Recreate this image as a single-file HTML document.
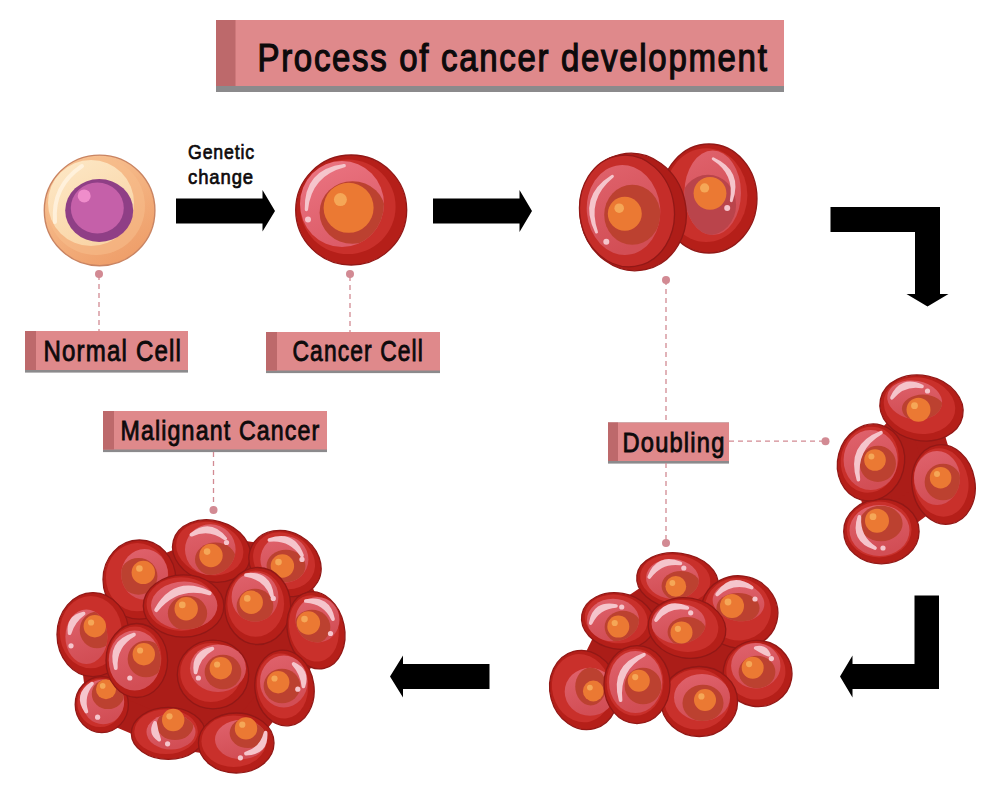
<!DOCTYPE html><html><head><meta charset="utf-8"><style>
html,body{margin:0;padding:0;background:#fff;}
svg{display:block}
.t{font-family:"Liberation Sans",sans-serif;fill:#0d0a0b;stroke:#0d0a0b;stroke-width:0.9px}
</style></head><body>
<svg width="1000" height="792" viewBox="0 0 1000 792">
<defs><linearGradient id="pg" x1="0" y1="0" x2="0.3" y2="1"><stop offset="0" stop-color="#E0636D"/><stop offset="1" stop-color="#D24E55"/></linearGradient><linearGradient id="pg2" x1="0" y1="0" x2="0.4" y2="1"><stop offset="0" stop-color="#EC7683"/><stop offset="1" stop-color="#DC5C68"/></linearGradient></defs>
<rect width="1000" height="792" fill="#ffffff"/>
<rect x="216" y="20" width="568" height="72" fill="#8B8A8C"/>
<rect x="216" y="20" width="568" height="66" fill="#DF898B"/>
<rect x="216" y="20" width="19.5" height="66" fill="#BD696B"/>
<text x="257.5" y="70.5" font-size="39" textLength="511" lengthAdjust="spacingAndGlyphs" class="t" style="letter-spacing:2px;stroke-width:1.25px">Process of cancer development</text>
<rect x="25" y="331" width="163" height="41.6" fill="#8B8A8C"/>
<rect x="25" y="331" width="163" height="39" fill="#DF898B"/>
<rect x="25" y="331" width="11" height="39" fill="#BD696B"/>
<text x="43.5" y="360.8" font-size="28.6" textLength="138.5" lengthAdjust="spacingAndGlyphs" class="t" style="letter-spacing:1.4px;stroke-width:0.85px">Normal Cell</text>
<rect x="266" y="332" width="174" height="41.1" fill="#8B8A8C"/>
<rect x="266" y="332" width="174" height="38.5" fill="#DF898B"/>
<rect x="266" y="332" width="11" height="38.5" fill="#BD696B"/>
<text x="292.5" y="361.2" font-size="28.6" textLength="131.5" lengthAdjust="spacingAndGlyphs" class="t" style="letter-spacing:1.4px;stroke-width:0.85px">Cancer Cell</text>
<rect x="103" y="411" width="224" height="41.1" fill="#8B8A8C"/>
<rect x="103" y="411" width="224" height="38.5" fill="#DF898B"/>
<rect x="103" y="411" width="11" height="38.5" fill="#BD696B"/>
<text x="120.5" y="440.2" font-size="28" textLength="200" lengthAdjust="spacingAndGlyphs" class="t" style="letter-spacing:1.4px;stroke-width:0.85px">Malignant Cancer</text>
<rect x="608" y="422.5" width="121" height="41.1" fill="#8B8A8C"/>
<rect x="608" y="422.5" width="121" height="38.5" fill="#DF898B"/>
<rect x="608" y="422.5" width="10" height="38.5" fill="#BD696B"/>
<text x="622.5" y="451.8" font-size="28" textLength="103" lengthAdjust="spacingAndGlyphs" class="t" style="letter-spacing:1.4px;stroke-width:0.85px">Doubling</text>
<text x="188" y="158.5" font-size="21" textLength="67" lengthAdjust="spacingAndGlyphs" class="t" style="stroke-width:0.7px;letter-spacing:1px">Genetic</text>
<text x="188" y="183.5" font-size="21" textLength="66" lengthAdjust="spacingAndGlyphs" class="t" style="stroke-width:0.7px;letter-spacing:1px">change</text>
<path d="M176 198.5H262.5V190L275 211L262.5 231.5V223.5H176Z" fill="#000"/>
<path d="M433 198.5H519.5V190L532 211L519.5 232V223.5H433Z" fill="#000"/>
<path d="M830.5 207H940V294H948.5L927.5 306.5L906.5 294H915V232H830.5Z" fill="#000"/>
<path d="M914.5 595.5H939V689H852.5V697.5L840 676.5L852.5 655.5V664H914.5Z" fill="#000"/>
<path d="M489.5 664V689H403V697.5L390 676.5L403 655.5V664Z" fill="#000"/>
<line x1="99" y1="275" x2="99" y2="331" stroke="#D28A93" stroke-width="1.3" stroke-dasharray="5 4"/>
<circle cx="99" cy="274" r="4" fill="#D28A93"/>
<line x1="350" y1="276" x2="350" y2="332" stroke="#D28A93" stroke-width="1.3" stroke-dasharray="5 4"/>
<circle cx="350" cy="274" r="4" fill="#D28A93"/>
<line x1="213.5" y1="452" x2="213.5" y2="510" stroke="#D28A93" stroke-width="1.3" stroke-dasharray="5 4"/>
<circle cx="213.5" cy="510" r="4" fill="#D28A93"/>
<line x1="666" y1="280" x2="666" y2="422.5" stroke="#D28A93" stroke-width="1.3" stroke-dasharray="5 4"/>
<circle cx="666" cy="280" r="4" fill="#D28A93"/>
<line x1="666" y1="463" x2="666" y2="543" stroke="#D28A93" stroke-width="1.3" stroke-dasharray="5 4"/>
<circle cx="666" cy="543" r="4" fill="#D28A93"/>
<line x1="729" y1="441.2" x2="822" y2="441.2" stroke="#D28A93" stroke-width="1.3" stroke-dasharray="5 4"/><circle cx="825.5" cy="441.2" r="4" fill="#D28A93"/>
<g>
<defs><linearGradient id="ng" x1="0.2" y1="0" x2="0.8" y2="1"><stop offset="0" stop-color="#F8C596"/><stop offset="1" stop-color="#EE9C67"/></linearGradient>
<linearGradient id="ng2" x1="0.1" y1="0" x2="0.7" y2="1"><stop offset="0" stop-color="#FDE8C6"/><stop offset="1" stop-color="#F9D3A4"/></linearGradient></defs>
<circle cx="99.6" cy="210.4" r="55.3" fill="url(#ng)" stroke="#C98462" stroke-width="1.4"/>
<circle cx="96" cy="206" r="49" fill="#F6BC8A" opacity="0.6"/>
<circle cx="91" cy="203" r="43" fill="url(#ng2)"/>
<path d="M55 222Q52 186 82 166" fill="none" stroke="#FFF4E2" stroke-width="4" stroke-linecap="round" opacity="0.8"/>
<ellipse cx="99.2" cy="210.5" rx="34" ry="31.5" fill="#8F3F86"/>
<ellipse cx="97.3" cy="208" rx="26.5" ry="25.5" fill="#C560A9"/>
<circle cx="84.2" cy="195.9" r="6.5" fill="#EF8DCB"/>
</g>
<ellipse cx="351.2" cy="210" rx="55.5" ry="55" transform="rotate(0 351.2 210)" fill="#B51F19" stroke="#921816" stroke-width="1.3"/><ellipse cx="347.9" cy="206.7" rx="47.7" ry="47.3" transform="rotate(0 351.2 210)" fill="#C9302B"/><clipPath id="k1"><ellipse cx="342" cy="204" rx="42" ry="43" transform="rotate(0 342 204)"/></clipPath><ellipse cx="342" cy="204" rx="42" ry="43" transform="rotate(0 342 204)" fill="url(#pg2)"/><ellipse clip-path="url(#k1)" cx="352.5" cy="212.5" rx="32.940000000000005" ry="31.32" fill="#BC4130"/><circle cx="348.6" cy="207.8" r="25" fill="#EB7933"/><circle cx="340.4" cy="199.6" r="6.5" fill="#F5A757"/><path d="M306.4 209.5Q305.5 170.5 344.2 165.6Q310.0 174.4 306.4 209.5Z" fill="#F5C5CC" stroke="#F5C5CC" stroke-width="3.3" stroke-linejoin="round"/><circle cx="308" cy="219.5" r="3" fill="#F5C5CC"/>
<ellipse cx="709" cy="198.5" rx="48" ry="54.5" transform="rotate(0 709 198.5)" fill="#B51F19" stroke="#921816" stroke-width="1.3"/><ellipse cx="706.1" cy="195.2" rx="41.3" ry="46.9" transform="rotate(0 709 198.5)" fill="#C9302B"/><clipPath id="k2"><ellipse cx="712.7" cy="192.8" rx="28.3" ry="42.3" transform="rotate(0 712.7 192.8)"/></clipPath><ellipse cx="712.7" cy="192.8" rx="28.3" ry="42.3" transform="rotate(0 712.7 192.8)" fill="url(#pg)"/><ellipse clip-path="url(#k2)" cx="708" cy="205" rx="28.080000000000002" ry="30.240000000000002" fill="#BA444B"/><circle cx="710" cy="193.3" r="16.4" fill="#EB7933"/><circle cx="704.6" cy="187.9" r="4.6" fill="#F5A757"/><path d="M713.2 158.8Q741.4 171.5 731.3 200.7Q736.6 173.5 713.2 158.8Z" fill="#F5C5CC" stroke="#F5C5CC" stroke-width="2.9" stroke-linejoin="round"/><circle cx="727.2" cy="208" r="3" fill="#F5C5CC"/>
<ellipse cx="633" cy="212" rx="53" ry="59" transform="rotate(-12 633 212)" fill="#AE1D18" stroke="#921816" stroke-width="1.3"/>
<ellipse cx="627" cy="211" rx="47.3" ry="56" transform="rotate(-8 627 211)" fill="#C52D29" stroke="#921816" stroke-width="1.3"/><clipPath id="k3"><ellipse cx="623.5" cy="210" rx="36.7" ry="45" transform="rotate(-5 623.5 210)"/></clipPath><ellipse cx="623.5" cy="210" rx="36.7" ry="45" transform="rotate(-5 623.5 210)" fill="url(#pg)"/><ellipse clip-path="url(#k3)" cx="632.3" cy="214.7" rx="28.080000000000002" ry="30.024000000000004" fill="#BC4130"/><circle cx="624.8" cy="213.8" r="17" fill="#EB7933"/><circle cx="619.2" cy="208.2" r="4.8" fill="#F5A757"/><path d="M596.5 232.0Q579.5 197.0 612.4 176.3Q584.8 198.5 596.5 232.0Z" fill="#F5C5CC" stroke="#F5C5CC" stroke-width="3.0" stroke-linejoin="round"/><circle cx="606.3" cy="241.7" r="3" fill="#F5C5CC"/>
<path d="M921 408L944 484L881 531L871 462Z" fill="#AB1D18" stroke="#AB1D18" stroke-width="30" stroke-linejoin="round"/>
<ellipse cx="943.5" cy="484.5" rx="31.5" ry="40" transform="rotate(-10 943.5 484.5)" fill="#B51F19" stroke="#921816" stroke-width="1.3"/><ellipse cx="941.6" cy="482.1" rx="27.1" ry="34.4" transform="rotate(-10 943.5 484.5)" fill="#C9302B"/><clipPath id="k4"><ellipse cx="937" cy="478" rx="23" ry="27" transform="rotate(0 937 478)"/></clipPath><ellipse cx="937" cy="478" rx="23" ry="27" transform="rotate(0 937 478)" fill="url(#pg)"/><ellipse clip-path="url(#k4)" cx="943" cy="482" rx="18.36" ry="18.36" fill="#BC4130"/><circle cx="940.6" cy="477.7" r="10.8" fill="#EB7933"/><circle cx="937.0" cy="474.1" r="3.0" fill="#F5A757"/>
<ellipse cx="921.5" cy="408" rx="42" ry="32.5" transform="rotate(12 921.5 408)" fill="#B51F19" stroke="#921816" stroke-width="1.3"/><ellipse cx="919.0" cy="406.1" rx="36.1" ry="27.9" transform="rotate(12 921.5 408)" fill="#C9302B"/><clipPath id="k5"><ellipse cx="914.7" cy="400" rx="27.7" ry="19.3" transform="rotate(10 914.7 400)"/></clipPath><ellipse cx="914.7" cy="400" rx="27.7" ry="19.3" transform="rotate(10 914.7 400)" fill="url(#pg)"/><ellipse clip-path="url(#k5)" cx="923" cy="408.6" rx="21.060000000000002" ry="14.040000000000001" fill="#BC4130"/><circle cx="918.5" cy="409.7" r="12" fill="#EB7933"/><circle cx="914.5" cy="405.7" r="3.4" fill="#F5A757"/><path d="M892.0 397.7Q901.3 376.9 922.0 386.5Q903.7 383.3 892.0 397.7Z" fill="#F5C5CC" stroke="#F5C5CC" stroke-width="3.7" stroke-linejoin="round"/><circle cx="927.5" cy="391" r="2.6" fill="#F5C5CC"/>
<ellipse cx="881.4" cy="531.4" rx="37.7" ry="32.4" transform="rotate(0 881.4 531.4)" fill="#B51F19" stroke="#921816" stroke-width="1.3"/><ellipse cx="879.1" cy="529.5" rx="32.4" ry="27.9" transform="rotate(0 881.4 531.4)" fill="#C9302B"/><clipPath id="k6"><ellipse cx="879.5" cy="530.5" rx="30" ry="25.5" transform="rotate(0 879.5 530.5)"/></clipPath><ellipse cx="879.5" cy="530.5" rx="30" ry="25.5" transform="rotate(0 879.5 530.5)" fill="url(#pg)"/><ellipse clip-path="url(#k6)" cx="881" cy="523.5" rx="21.6" ry="17.82" fill="#BC4130"/><circle cx="877" cy="520.7" r="12" fill="#EB7933"/><circle cx="873.0" cy="516.7" r="3.4" fill="#F5A757"/><path d="M859.4 516.8Q851.7 540.2 875.0 548.0Q857.8 537.1 859.4 516.8Z" fill="#F5C5CC" stroke="#F5C5CC" stroke-width="3.7" stroke-linejoin="round"/><circle cx="883" cy="548" r="2.6" fill="#F5C5CC"/>
<ellipse cx="871" cy="462.4" rx="33.3" ry="38.7" transform="rotate(15 871 462.4)" fill="#B51F19" stroke="#921816" stroke-width="1.3"/><ellipse cx="869.0" cy="460.1" rx="28.6" ry="33.3" transform="rotate(15 871 462.4)" fill="#C9302B"/><clipPath id="k7"><ellipse cx="870.6" cy="460" rx="27" ry="30" transform="rotate(0 870.6 460)"/></clipPath><ellipse cx="870.6" cy="460" rx="27" ry="30" transform="rotate(0 870.6 460)" fill="url(#pg)"/><ellipse clip-path="url(#k7)" cx="877.8" cy="463.8" rx="18.144000000000002" ry="18.144000000000002" fill="#BC4130"/><circle cx="875" cy="460" r="10.8" fill="#EB7933"/><circle cx="871.4" cy="456.4" r="3.0" fill="#F5A757"/><path d="M858.4 479.6Q848.0 445.7 881.0 432.6Q853.8 448.5 858.4 479.6Z" fill="#F5C5CC" stroke="#F5C5CC" stroke-width="3.6" stroke-linejoin="round"/>
<path d="M677 581L739 612L757 673L699 701L637 684L584 690L618 621Z" fill="#AB1D18" stroke="#AB1D18" stroke-width="30" stroke-linejoin="round"/>
<ellipse cx="677.5" cy="581" rx="41" ry="28" transform="rotate(8 677.5 581)" fill="#B51F19" stroke="#921816" stroke-width="1.3"/><ellipse cx="675.0" cy="579.3" rx="35.3" ry="24.1" transform="rotate(8 677.5 581)" fill="#C9302B"/><clipPath id="k8"><ellipse cx="672.5" cy="579" rx="26.5" ry="20" transform="rotate(5 672.5 579)"/></clipPath><ellipse cx="672.5" cy="579" rx="26.5" ry="20" transform="rotate(5 672.5 579)" fill="url(#pg)"/><ellipse clip-path="url(#k8)" cx="681" cy="586" rx="19.44" ry="15.120000000000001" fill="#BC4130"/><circle cx="675.8" cy="586.4" r="10.4" fill="#EB7933"/><circle cx="672.4" cy="583.0" r="2.9" fill="#F5A757"/><path d="M649.3 577.0Q658.0 554.6 680.4 563.4Q660.8 560.9 649.3 577.0Z" fill="#F5C5CC" stroke="#F5C5CC" stroke-width="3.7" stroke-linejoin="round"/><circle cx="683.8" cy="568" r="2.6" fill="#F5C5CC"/>
<ellipse cx="739.5" cy="612" rx="38.5" ry="36" transform="rotate(15 739.5 612)" fill="#B51F19" stroke="#921816" stroke-width="1.3"/><ellipse cx="737.2" cy="609.8" rx="33.1" ry="31.0" transform="rotate(15 739.5 612)" fill="#C9302B"/><clipPath id="k9"><ellipse cx="738.5" cy="602" rx="26" ry="19" transform="rotate(10 738.5 602)"/></clipPath><ellipse cx="738.5" cy="602" rx="26" ry="19" transform="rotate(10 738.5 602)" fill="url(#pg)"/><ellipse clip-path="url(#k9)" cx="738" cy="608" rx="21.6" ry="15.120000000000001" fill="#BC4130"/><circle cx="732" cy="606" r="12" fill="#EB7933"/><circle cx="728.0" cy="602.0" r="3.4" fill="#F5A757"/><path d="M717.2 594.4Q731.0 573.8 751.7 587.5Q732.4 580.5 717.2 594.4Z" fill="#F5C5CC" stroke="#F5C5CC" stroke-width="3.7" stroke-linejoin="round"/><circle cx="755" cy="599" r="2.6" fill="#F5C5CC"/>
<ellipse cx="618" cy="621" rx="36.7" ry="28" transform="rotate(10 618 621)" fill="#B51F19" stroke="#921816" stroke-width="1.3"/><ellipse cx="615.8" cy="619.3" rx="31.6" ry="24.1" transform="rotate(10 618 621)" fill="#C9302B"/><clipPath id="k10"><ellipse cx="613" cy="620" rx="26" ry="21.3" transform="rotate(0 613 620)"/></clipPath><ellipse cx="613" cy="620" rx="26" ry="21.3" transform="rotate(0 613 620)" fill="url(#pg)"/><ellipse clip-path="url(#k10)" cx="623" cy="627" rx="18.36" ry="16.200000000000003" fill="#BC4130"/><circle cx="618.3" cy="626.6" r="11" fill="#EB7933"/><circle cx="614.7" cy="623.0" r="3.1" fill="#F5A757"/><path d="M590.7 623.0Q594.7 601.6 616.0 606.0Q598.4 607.2 590.7 623.0Z" fill="#F5C5CC" stroke="#F5C5CC" stroke-width="3.7" stroke-linejoin="round"/><circle cx="621.7" cy="607" r="2.6" fill="#F5C5CC"/>
<ellipse cx="687" cy="628" rx="39" ry="30" transform="rotate(10 687 628)" fill="#B51F19" stroke="#921816" stroke-width="1.3"/><ellipse cx="684.7" cy="626.2" rx="33.5" ry="25.8" transform="rotate(10 687 628)" fill="#C9302B"/><clipPath id="k11"><ellipse cx="678.6" cy="623.7" rx="27" ry="20" transform="rotate(0 678.6 623.7)"/></clipPath><ellipse cx="678.6" cy="623.7" rx="27" ry="20" transform="rotate(0 678.6 623.7)" fill="url(#pg)"/><ellipse clip-path="url(#k11)" cx="687" cy="632" rx="19.44" ry="15.120000000000001" fill="#BC4130"/><circle cx="681.5" cy="632.4" r="11" fill="#EB7933"/><circle cx="677.9" cy="628.8" r="3.1" fill="#F5A757"/><path d="M656.0 620.0Q665.6 598.3 687.3 608.0Q668.1 604.7 656.0 620.0Z" fill="#F5C5CC" stroke="#F5C5CC" stroke-width="3.7" stroke-linejoin="round"/><circle cx="690.7" cy="612.8" r="2.6" fill="#F5C5CC"/>
<ellipse cx="757.6" cy="673.5" rx="34.4" ry="33" transform="rotate(10 757.6 673.5)" fill="#B51F19" stroke="#921816" stroke-width="1.3"/><ellipse cx="755.5" cy="671.5" rx="29.6" ry="28.4" transform="rotate(10 757.6 673.5)" fill="#C9302B"/><clipPath id="k12"><ellipse cx="755.8" cy="665.8" rx="24.7" ry="22.7" transform="rotate(0 755.8 665.8)"/></clipPath><ellipse cx="755.8" cy="665.8" rx="24.7" ry="22.7" transform="rotate(0 755.8 665.8)" fill="url(#pg)"/><ellipse clip-path="url(#k12)" cx="757" cy="672" rx="18.36" ry="16.200000000000003" fill="#BC4130"/><circle cx="752.7" cy="667.7" r="11" fill="#EB7933"/><circle cx="749.1" cy="664.1" r="3.1" fill="#F5A757"/><path d="M755.8 648.0Q765.1 646.0 768.8 654.7Q762.0 652.0 755.8 648.0Z" fill="#F5C5CC" stroke="#F5C5CC" stroke-width="3.7" stroke-linejoin="round"/><circle cx="771.4" cy="658.6" r="2.6" fill="#F5C5CC"/>
<ellipse cx="699.3" cy="701.5" rx="38.3" ry="35" transform="rotate(0 699.3 701.5)" fill="#B51F19" stroke="#921816" stroke-width="1.3"/><ellipse cx="697.0" cy="699.4" rx="32.9" ry="30.1" transform="rotate(0 699.3 701.5)" fill="#C9302B"/><clipPath id="k13"><ellipse cx="702" cy="697.5" rx="28" ry="23.5" transform="rotate(0 702 697.5)"/></clipPath><ellipse cx="702" cy="697.5" rx="28" ry="23.5" transform="rotate(0 702 697.5)" fill="url(#pg)"/><ellipse clip-path="url(#k13)" cx="703" cy="703" rx="20.520000000000003" ry="18.36" fill="#BC4130"/><circle cx="705" cy="700" r="11" fill="#EB7933"/><circle cx="701.4" cy="696.4" r="3.1" fill="#F5A757"/>
<ellipse cx="584" cy="690" rx="34" ry="40" transform="rotate(-15 584 690)" fill="#B51F19" stroke="#921816" stroke-width="1.3"/><ellipse cx="582.0" cy="687.6" rx="29.2" ry="34.4" transform="rotate(-15 584 690)" fill="#C9302B"/><clipPath id="k14"><ellipse cx="590" cy="691.8" rx="25.3" ry="24" transform="rotate(0 590 691.8)"/></clipPath><ellipse cx="590" cy="691.8" rx="25.3" ry="24" transform="rotate(0 590 691.8)" fill="url(#pg)"/><ellipse clip-path="url(#k14)" cx="590.7" cy="686.5" rx="15.444000000000003" ry="18.900000000000002" fill="#BC4130"/><circle cx="593.3" cy="691" r="10.4" fill="#EB7933"/><circle cx="589.9" cy="687.6" r="2.9" fill="#F5A757"/>
<ellipse cx="637" cy="684.6" rx="33" ry="39" transform="rotate(0 637 684.6)" fill="#B51F19" stroke="#921816" stroke-width="1.3"/><ellipse cx="635.0" cy="682.3" rx="28.4" ry="33.5" transform="rotate(0 637 684.6)" fill="#C9302B"/><clipPath id="k15"><ellipse cx="635.6" cy="682" rx="26.6" ry="31" transform="rotate(0 635.6 682)"/></clipPath><ellipse cx="635.6" cy="682" rx="26.6" ry="31" transform="rotate(0 635.6 682)" fill="url(#pg)"/><ellipse clip-path="url(#k15)" cx="643" cy="686" rx="18.36" ry="18.36" fill="#BC4130"/><circle cx="638.8" cy="680.7" r="11" fill="#EB7933"/><circle cx="635.2" cy="677.1" r="3.1" fill="#F5A757"/><path d="M620.6 700.2Q611.2 666.6 644.0 654.7Q617.0 669.6 620.6 700.2Z" fill="#F5C5CC" stroke="#F5C5CC" stroke-width="3.6" stroke-linejoin="round"/>
<path d="M211 551L285 562L315 630L284 685L236 743L168 733L102 705L93 635L139 580Z" fill="#AB1D18" stroke="#AB1D18" stroke-width="30" stroke-linejoin="round"/>
<ellipse cx="211.6" cy="551" rx="39.6" ry="30.5" transform="rotate(15 211.6 551)" fill="#B51F19" stroke="#921816" stroke-width="1.3"/><ellipse cx="209.2" cy="549.2" rx="34.1" ry="26.2" transform="rotate(15 211.6 551)" fill="#C9302B"/><clipPath id="k16"><ellipse cx="210.3" cy="549.6" rx="25.3" ry="25.3" transform="rotate(0 210.3 549.6)"/></clipPath><ellipse cx="210.3" cy="549.6" rx="25.3" ry="25.3" transform="rotate(0 210.3 549.6)" fill="url(#pg)"/><ellipse clip-path="url(#k16)" cx="215.5" cy="559.4" rx="20.520000000000003" ry="16.848" fill="#BC4130"/><circle cx="211" cy="555.5" r="11.7" fill="#EB7933"/><circle cx="207.1" cy="551.6" r="3.3" fill="#F5A757"/><path d="M191.4 534.7Q210.2 519.8 225.2 538.6Q209.5 526.5 191.4 534.7Z" fill="#F5C5CC" stroke="#F5C5CC" stroke-width="3.7" stroke-linejoin="round"/><circle cx="226.5" cy="542.5" r="2.6" fill="#F5C5CC"/>
<ellipse cx="285" cy="563.5" rx="37.5" ry="31.5" transform="rotate(30 285 563.5)" fill="#B51F19" stroke="#921816" stroke-width="1.3"/><ellipse cx="282.8" cy="561.6" rx="32.2" ry="27.1" transform="rotate(30 285 563.5)" fill="#C9302B"/><clipPath id="k17"><ellipse cx="284.4" cy="559.4" rx="24" ry="23.4" transform="rotate(0 284.4 559.4)"/></clipPath><ellipse cx="284.4" cy="559.4" rx="24" ry="23.4" transform="rotate(0 284.4 559.4)" fill="url(#pg)"/><ellipse clip-path="url(#k17)" cx="286" cy="566" rx="19.44" ry="16.200000000000003" fill="#BC4130"/><circle cx="282.4" cy="566" r="11.7" fill="#EB7933"/><circle cx="278.5" cy="562.1" r="3.3" fill="#F5A757"/><path d="M269.4 540.0Q293.4 531.6 302.0 555.5Q290.4 537.8 269.4 540.0Z" fill="#F5C5CC" stroke="#F5C5CC" stroke-width="3.7" stroke-linejoin="round"/><circle cx="302" cy="559.4" r="2.6" fill="#F5C5CC"/>
<ellipse cx="139.4" cy="579.6" rx="36.4" ry="39.6" transform="rotate(0 139.4 579.6)" fill="#B51F19" stroke="#921816" stroke-width="1.3"/><ellipse cx="137.2" cy="577.2" rx="31.3" ry="34.1" transform="rotate(0 139.4 579.6)" fill="#C9302B"/><clipPath id="k18"><ellipse cx="144.6" cy="574.4" rx="23.4" ry="25.4" transform="rotate(0 144.6 574.4)"/></clipPath><ellipse cx="144.6" cy="574.4" rx="23.4" ry="25.4" transform="rotate(0 144.6 574.4)" fill="url(#pg)"/><ellipse clip-path="url(#k18)" cx="138.5" cy="576.3" rx="18.900000000000002" ry="18.36" fill="#BC4130"/><circle cx="143.3" cy="572.4" r="11.7" fill="#EB7933"/><circle cx="139.4" cy="568.5" r="3.3" fill="#F5A757"/>
<ellipse cx="93" cy="634.6" rx="36" ry="42" transform="rotate(0 93 634.6)" fill="#B51F19" stroke="#921816" stroke-width="1.3"/><ellipse cx="90.8" cy="632.1" rx="31.0" ry="36.1" transform="rotate(0 93 634.6)" fill="#C9302B"/><clipPath id="k19"><ellipse cx="86.4" cy="636.7" rx="21" ry="27.3" transform="rotate(0 86.4 636.7)"/></clipPath><ellipse cx="86.4" cy="636.7" rx="21" ry="27.3" transform="rotate(0 86.4 636.7)" fill="url(#pg)"/><ellipse clip-path="url(#k19)" cx="97" cy="630" rx="17.28" ry="18.36" fill="#BC4130"/><circle cx="94.8" cy="626.2" r="11.2" fill="#EB7933"/><circle cx="91.1" cy="622.5" r="3.1" fill="#F5A757"/><path d="M69.6 633.2Q67.7 617.1 83.6 613.6Q73.3 621.0 69.6 633.2Z" fill="#F5C5CC" stroke="#F5C5CC" stroke-width="3.7" stroke-linejoin="round"/><circle cx="71" cy="645.8" r="2.6" fill="#F5C5CC"/>
<ellipse cx="101.8" cy="704.6" rx="26.6" ry="28" transform="rotate(0 101.8 704.6)" fill="#B51F19" stroke="#921816" stroke-width="1.3"/><ellipse cx="100.2" cy="702.9" rx="22.9" ry="24.1" transform="rotate(0 101.8 704.6)" fill="#C9302B"/><clipPath id="k20"><ellipse cx="103.2" cy="701.8" rx="21" ry="22.4" transform="rotate(0 103.2 701.8)"/></clipPath><ellipse cx="103.2" cy="701.8" rx="21" ry="22.4" transform="rotate(0 103.2 701.8)" fill="url(#pg)"/><ellipse clip-path="url(#k20)" cx="108" cy="694" rx="16.200000000000003" ry="15.120000000000001" fill="#BC4130"/><circle cx="106" cy="689.2" r="10" fill="#EB7933"/><circle cx="102.7" cy="685.9" r="2.8" fill="#F5A757"/><path d="M86.4 711.6Q74.7 694.7 92.0 683.6Q81.3 696.0 86.4 711.6Z" fill="#F5C5CC" stroke="#F5C5CC" stroke-width="3.7" stroke-linejoin="round"/><circle cx="97.6" cy="717.2" r="2.6" fill="#F5C5CC"/>
<ellipse cx="183.6" cy="606" rx="40.3" ry="31.2" transform="rotate(0 183.6 606)" fill="#B51F19" stroke="#921816" stroke-width="1.3"/><ellipse cx="181.2" cy="604.1" rx="34.7" ry="26.8" transform="rotate(0 183.6 606)" fill="#C9302B"/><clipPath id="k21"><ellipse cx="184.2" cy="605.6" rx="33.2" ry="24" transform="rotate(0 184.2 605.6)"/></clipPath><ellipse cx="184.2" cy="605.6" rx="33.2" ry="24" transform="rotate(0 184.2 605.6)" fill="url(#pg)"/><ellipse clip-path="url(#k21)" cx="187.5" cy="613.3" rx="19.656" ry="17.604000000000003" fill="#BC4130"/><circle cx="186.2" cy="608.8" r="11.7" fill="#EB7933"/><circle cx="182.3" cy="604.9" r="3.3" fill="#F5A757"/><path d="M156.3 610.0Q175.1 576.7 209.6 593.2Q177.4 583.9 156.3 610.0Z" fill="#F5C5CC" stroke="#F5C5CC" stroke-width="4.1" stroke-linejoin="round"/>
<ellipse cx="257.7" cy="606" rx="33" ry="38.5" transform="rotate(0 257.7 606)" fill="#B51F19" stroke="#921816" stroke-width="1.3"/><ellipse cx="255.7" cy="603.7" rx="28.4" ry="33.1" transform="rotate(0 257.7 606)" fill="#C9302B"/><clipPath id="k22"><ellipse cx="255" cy="597" rx="23.4" ry="24.7" transform="rotate(0 255 597)"/></clipPath><ellipse cx="255" cy="597" rx="23.4" ry="24.7" transform="rotate(0 255 597)" fill="url(#pg)"/><ellipse clip-path="url(#k22)" cx="255" cy="606" rx="18.36" ry="17.28" fill="#BC4130"/><circle cx="251.2" cy="602.3" r="11.7" fill="#EB7933"/><circle cx="247.3" cy="598.4" r="3.3" fill="#F5A757"/><path d="M246.0 575.0Q269.4 572.3 272.0 595.8Q265.2 577.7 246.0 575.0Z" fill="#F5C5CC" stroke="#F5C5CC" stroke-width="3.7" stroke-linejoin="round"/><circle cx="273.3" cy="598.4" r="2.6" fill="#F5C5CC"/>
<ellipse cx="316" cy="630.3" rx="28.5" ry="39" transform="rotate(-12 316 630.3)" fill="#B51F19" stroke="#921816" stroke-width="1.3"/><ellipse cx="314.3" cy="628.0" rx="24.5" ry="33.5" transform="rotate(-12 316 630.3)" fill="#C9302B"/><clipPath id="k23"><ellipse cx="317.5" cy="619.8" rx="22" ry="22.8" transform="rotate(0 317.5 619.8)"/></clipPath><ellipse cx="317.5" cy="619.8" rx="22" ry="22.8" transform="rotate(0 317.5 619.8)" fill="url(#pg)"/><ellipse clip-path="url(#k23)" cx="312" cy="627" rx="18.36" ry="17.28" fill="#BC4130"/><circle cx="308.4" cy="623" r="11.7" fill="#EB7933"/><circle cx="304.5" cy="619.1" r="3.3" fill="#F5A757"/><path d="M305.8 601.0Q328.6 596.4 333.0 619.2Q324.8 602.0 305.8 601.0Z" fill="#F5C5CC" stroke="#F5C5CC" stroke-width="3.7" stroke-linejoin="round"/><circle cx="330.5" cy="633.5" r="2.6" fill="#F5C5CC"/>
<ellipse cx="136.8" cy="660.5" rx="30.8" ry="37" transform="rotate(0 136.8 660.5)" fill="#B51F19" stroke="#921816" stroke-width="1.3"/><ellipse cx="135.0" cy="658.3" rx="26.5" ry="31.8" transform="rotate(0 136.8 660.5)" fill="#C9302B"/><clipPath id="k24"><ellipse cx="134.7" cy="660.5" rx="25.9" ry="30" transform="rotate(0 134.7 660.5)"/></clipPath><ellipse cx="134.7" cy="660.5" rx="25.9" ry="30" transform="rotate(0 134.7 660.5)" fill="url(#pg)"/><ellipse clip-path="url(#k24)" cx="146" cy="659" rx="18.36" ry="18.36" fill="#BC4130"/><circle cx="143.8" cy="654.2" r="11.2" fill="#EB7933"/><circle cx="140.1" cy="650.5" r="3.1" fill="#F5A757"/><path d="M115.8 668.2Q108.5 642.5 134.0 634.6Q114.4 645.7 115.8 668.2Z" fill="#F5C5CC" stroke="#F5C5CC" stroke-width="3.7" stroke-linejoin="round"/><circle cx="129.8" cy="678" r="2.6" fill="#F5C5CC"/>
<ellipse cx="213" cy="674.5" rx="35.7" ry="34.3" transform="rotate(0 213 674.5)" fill="#B51F19" stroke="#921816" stroke-width="1.3"/><ellipse cx="210.9" cy="672.4" rx="30.7" ry="29.5" transform="rotate(0 213 674.5)" fill="#C9302B"/><clipPath id="k25"><ellipse cx="218" cy="668.2" rx="28" ry="23.8" transform="rotate(0 218 668.2)"/></clipPath><ellipse cx="218" cy="668.2" rx="28" ry="23.8" transform="rotate(0 218 668.2)" fill="url(#pg)"/><ellipse clip-path="url(#k25)" cx="223" cy="672" rx="18.36" ry="17.28" fill="#BC4130"/><circle cx="220.8" cy="668.2" r="11.2" fill="#EB7933"/><circle cx="217.1" cy="664.5" r="3.1" fill="#F5A757"/><path d="M195.6 672.4Q192.6 652.5 212.4 648.6Q198.2 656.4 195.6 672.4Z" fill="#F5C5CC" stroke="#F5C5CC" stroke-width="3.7" stroke-linejoin="round"/><circle cx="198.4" cy="678" r="2.6" fill="#F5C5CC"/>
<ellipse cx="284.5" cy="688" rx="29.5" ry="38" transform="rotate(-8 284.5 688)" fill="#B51F19" stroke="#921816" stroke-width="1.3"/><ellipse cx="282.7" cy="685.7" rx="25.4" ry="32.7" transform="rotate(-8 284.5 688)" fill="#C9302B"/><clipPath id="k26"><ellipse cx="283.8" cy="681.5" rx="23.8" ry="25.9" transform="rotate(0 283.8 681.5)"/></clipPath><ellipse cx="283.8" cy="681.5" rx="23.8" ry="25.9" transform="rotate(0 283.8 681.5)" fill="url(#pg)"/><ellipse clip-path="url(#k26)" cx="282" cy="686" rx="18.36" ry="17.28" fill="#BC4130"/><circle cx="278.2" cy="682.2" r="11.2" fill="#EB7933"/><circle cx="274.5" cy="678.5" r="3.1" fill="#F5A757"/><path d="M293.6 664.0Q308.5 670.8 303.4 686.4Q302.2 673.6 293.6 664.0Z" fill="#F5C5CC" stroke="#F5C5CC" stroke-width="3.7" stroke-linejoin="round"/><circle cx="297.8" cy="689.2" r="2.6" fill="#F5C5CC"/>
<ellipse cx="168.3" cy="733.3" rx="37" ry="26" transform="rotate(0 168.3 733.3)" fill="#B51F19" stroke="#921816" stroke-width="1.3"/><ellipse cx="166.1" cy="731.7" rx="31.8" ry="22.4" transform="rotate(0 168.3 733.3)" fill="#C9302B"/><clipPath id="k27"><ellipse cx="171" cy="732" rx="24.5" ry="17.5" transform="rotate(0 171 732)"/></clipPath><ellipse cx="171" cy="732" rx="24.5" ry="17.5" transform="rotate(0 171 732)" fill="url(#pg)"/><ellipse clip-path="url(#k27)" cx="175" cy="725" rx="18.36" ry="15.120000000000001" fill="#BC4130"/><circle cx="173.2" cy="720" r="11.2" fill="#EB7933"/><circle cx="169.5" cy="716.3" r="3.1" fill="#F5A757"/><path d="M155.0 722.8Q149.6 733.1 159.2 739.6Q156.2 731.4 155.0 722.8Z" fill="#F5C5CC" stroke="#F5C5CC" stroke-width="3.7" stroke-linejoin="round"/><circle cx="167.6" cy="743.8" r="2.6" fill="#F5C5CC"/>
<ellipse cx="236.2" cy="743" rx="37.8" ry="30" transform="rotate(0 236.2 743)" fill="#B51F19" stroke="#921816" stroke-width="1.3"/><ellipse cx="233.9" cy="741.2" rx="32.5" ry="25.8" transform="rotate(0 236.2 743)" fill="#C9302B"/><clipPath id="k28"><ellipse cx="241" cy="739.6" rx="26" ry="19.6" transform="rotate(0 241 739.6)"/></clipPath><ellipse cx="241" cy="739.6" rx="26" ry="19.6" transform="rotate(0 241 739.6)" fill="url(#pg)"/><ellipse clip-path="url(#k28)" cx="248" cy="733" rx="18.36" ry="15.120000000000001" fill="#BC4130"/><circle cx="246" cy="728.4" r="11.2" fill="#EB7933"/><circle cx="242.3" cy="724.7" r="3.1" fill="#F5A757"/><path d="M246.0 753.6Q266.7 753.3 265.6 732.6Q261.7 748.6 246.0 753.6Z" fill="#F5C5CC" stroke="#F5C5CC" stroke-width="3.7" stroke-linejoin="round"/><circle cx="240.4" cy="757.8" r="2.6" fill="#F5C5CC"/>
</svg></body></html>
